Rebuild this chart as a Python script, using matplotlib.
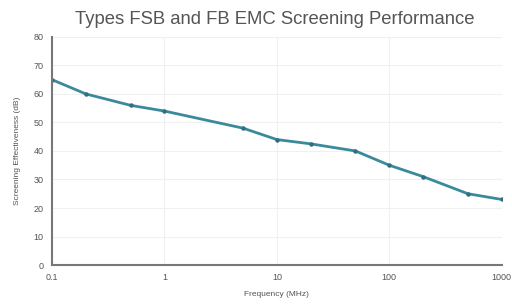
import matplotlib
matplotlib.use("Agg")
import matplotlib.pyplot as plt
import numpy as np

plt.rcParams['font.family'] = ['Liberation Sans', 'DejaVu Sans']

freq_mhz = [0.1, 0.2, 0.5, 1, 5, 10, 20, 50, 100, 200, 500, 1000]
screening_db = [65, 60, 56, 54, 48, 44, 42.5, 40, 35, 31, 25, 23]
x_ticks = [0.1, 1, 10, 100, 1000]
x_tick_labels = ["0.1", "1", "10", "100", "1000"]
y_ticks = [0, 10, 20, 30, 40, 50, 60, 70, 80]

fig = plt.figure(figsize=(5.12, 3.05), dpi=100)
ax = fig.add_axes([0.1016, 0.131, 0.8784, 0.748])

ax.plot(freq_mhz, screening_db, color="#3a8a9c", lw=2.0, marker="o", ms=2.2,
        markerfacecolor="#2f6f80", markeredgecolor="#2f6f80",
        solid_capstyle="round", solid_joinstyle="round")

ax.set_xscale("log")
ax.set_xlim(0.1, 1000)
ax.set_ylim(0, 80)
ax.set_xticks(x_ticks)
ax.set_xticklabels(x_tick_labels)
ax.set_yticks(y_ticks)
ax.minorticks_off()
ax.tick_params(axis="both", labelsize=6.5, colors="#555555", length=0, pad=6)
ax.grid(True, color="#f0f0f0", lw=0.8)
ax.set_axisbelow(True)
for s in ["top", "right"]:
    ax.spines[s].set_visible(False)
for s in ["left", "bottom"]:
    ax.spines[s].set_color("#777777")
    ax.spines[s].set_linewidth(1.5)

ax.set_xlabel("Frequency (MHz)", fontsize=6, color="#555555", labelpad=6)
ax.set_ylabel("Screening Effectiveness (dB)", fontsize=6, color="#555555", labelpad=9)
fig.suptitle("Types FSB and FB EMC Screening Performance", x=0.537, y=0.965,
             fontsize=13.3, color="#555555")

fig.savefig("out.png", dpi=100)
